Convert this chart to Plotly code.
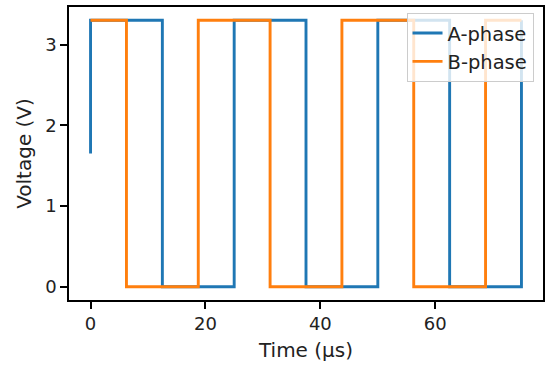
import plotly.graph_objects as go

# Square-wave signals (time in µs, voltage in V)
a_time = [0, 0, 12.5, 12.5, 25, 25, 37.5, 37.5, 50, 50, 62.5, 62.5, 75, 75]
a_volt = [1.65, 3.3, 3.3, 0, 0, 3.3, 3.3, 0, 0, 3.3, 3.3, 0, 0, 3.3]
b_time = [0, 6.25, 6.25, 18.75, 18.75, 31.25, 31.25, 43.75, 43.75, 56.25, 56.25, 68.75, 68.75, 75]
b_volt = [3.3, 3.3, 0, 0, 3.3, 3.3, 0, 0, 3.3, 3.3, 0, 0, 3.3, 3.3]
x_ticks = [0, 20, 40, 60]
y_ticks = [0, 1, 2, 3]

fig = go.Figure()
fig.add_trace(go.Scatter(x=a_time, y=a_volt, mode="lines", name="A-phase",
                         line=dict(color="#1f77b4", width=2.9)))
fig.add_trace(go.Scatter(x=b_time, y=b_volt, mode="lines", name="B-phase",
                         line=dict(color="#ff7f0e", width=2.9)))

font = "DejaVu Sans"
axis_common = dict(showgrid=False, zeroline=False, showline=True, linecolor="black",
                   linewidth=1.5, mirror=True, ticks="outside", ticklen=7, tickwidth=1.5,
                   tickcolor="black", automargin=False,
                   tickfont=dict(family=font, size=18, color="#222"))

fig.update_layout(
    width=550, height=374,
    margin=dict(l=69, r=7, t=7, b=74),
    paper_bgcolor="white", plot_bgcolor="white",
    xaxis=dict(range=[-3.75, 78.75], tickvals=x_ticks,
               title=dict(text="Time (µs)", font=dict(family=font, size=20, color="#222"), standoff=10),
               **axis_common),
    yaxis=dict(range=[-0.165, 3.465], tickvals=y_ticks,
               title=dict(text="Voltage (V)", font=dict(family=font, size=20, color="#222"), standoff=8),
               **axis_common),
    legend=dict(x=0.98, y=0.98, xanchor="right", yanchor="top",
                bgcolor="rgba(255,255,255,0.8)", bordercolor="#cccccc", borderwidth=1,
                font=dict(family=font, size=19.5, color="#222")),
    showlegend=True,
)

fig.write_html("out.html", config={"displayModeBar": False},
               post_script="document.body.style.margin='0';")
